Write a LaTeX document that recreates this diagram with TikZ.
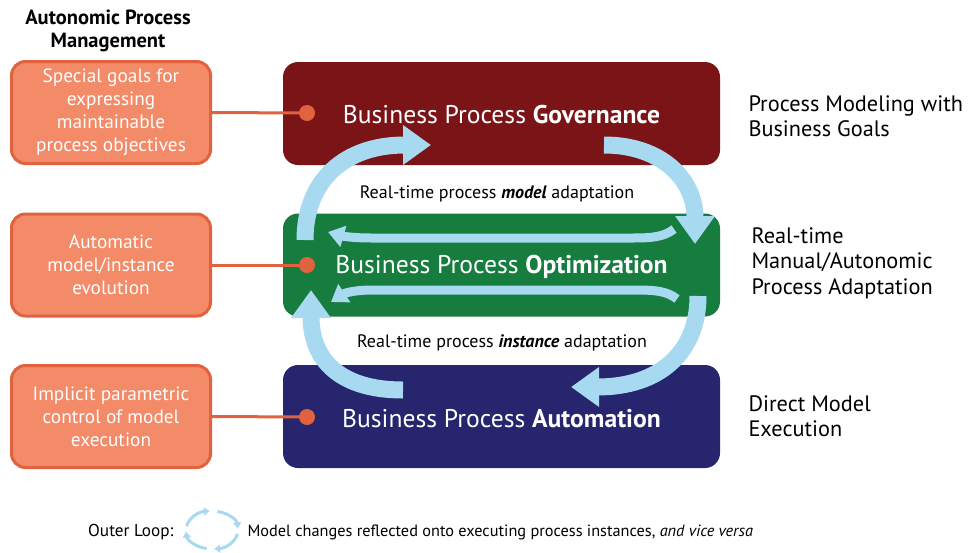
\documentclass[tikz,border=0pt]{standalone}
\usepackage{fontspec}
\setmainfont{PT Sans}
\usetikzlibrary{arrows.meta}
\definecolor{gov}{HTML}{7A1417}
\definecolor{opt}{HTML}{177D3F}
\definecolor{aut}{HTML}{26256D}
\definecolor{loopblue}{HTML}{A7D9F1}
\definecolor{orfill}{HTML}{F38A68}
\definecolor{orline}{HTML}{E0623E}
\tikzset{
  mainbox/.style={rounded corners=15pt, minimum width=437pt, minimum height=103pt, inner sep=0pt},
  boxtext/.style={text=white, font=\fontsize{25.6}{28}\selectfont},
  sidebox/.style={rounded corners=14pt, draw=orline, line width=3pt, fill=orfill, minimum width=199pt, minimum height=102pt, inner sep=0pt, text=white, align=center, font=\fontsize{19.3}{23}\selectfont},
  dot/.style={circle, fill=orline, minimum size=16pt, inner sep=0pt},
  link/.style={draw=orline, line width=3pt},
  bigloop/.style={draw=loopblue, line width=17pt, -{Triangle[width=38pt,length=28pt]}},
  innerloop/.style={draw=loopblue, line width=9pt, -{Triangle[width=21pt,length=16pt]}},
  smallloop/.style={draw=loopblue, line width=3pt, -{Triangle[width=8pt,length=6pt]}},
  righttext/.style={anchor=west, align=left, font=\fontsize{22.3}{25.5}\selectfont},
  midtext/.style={font=\fontsize{18}{20}\selectfont},
  legtext/.style={font=\fontsize{16.3}{20}\selectfont},
}
\begin{document}
\begin{tikzpicture}[x=1pt,y=-1pt]
\useasboundingbox (0,0) rectangle (973,552);
% title
\node[font=\bfseries\fontsize{20.5}{23}\selectfont, align=center] (title) at (108,30.5) {Autonomic Process\\Management};
% main boxes
\node[mainbox, fill=gov] (govbox) at (501.5,113.5) {};
\node[mainbox, fill=opt] (optbox) at (501.5,265) {};
\node[mainbox, fill=aut] (autbox) at (501.5,416.5) {};
% side boxes
\node[sidebox] (s1) at (111,112.5) {Special goals for\\expressing\\maintainable\\process objectives};
\node[sidebox] (s2) at (111,265) {Automatic\\model/instance\\evolution};
\node[sidebox] (s3) at (111,416.5) {Implicit parametric\\control of model\\execution};
% dots and links
\node[dot] (d1) at (307,113) {};
\node[dot] (d2) at (307,265) {};
\node[dot] (d3) at (307,417) {};
\draw[link] (s1.east) -- (d1.center);
\draw[link] (s2.east) -- (d2.center);
\draw[link] (s3.east) -- (d3.center);
% loops
\coordinate (a1s) at (305,240);
\coordinate (a1e) at (431,145);
\coordinate (a2s) at (604,145);
\coordinate (a2e) at (695,244);
\coordinate (a3s) at (698,296);
\coordinate (a3e) at (571,387);
\coordinate (a4s) at (403,390);
\coordinate (a4e) at (311,290);
\draw[bigloop] (a1s) .. controls (305,180) and (345,145) .. (a1e);
\draw[bigloop] (a2s) .. controls (662,145) and (695,180) .. (a2e);
\draw[bigloop] (a3s) .. controls (698,352) and (660,387) .. (a3e);
\draw[bigloop] (a4s) .. controls (340,390) and (311,360) .. (a4e);
% inner loops
\coordinate (i1s) at (674,229);
\coordinate (i1e) at (328,232);
\coordinate (i2s) at (677,299);
\coordinate (i2e) at (331,302);
\draw[innerloop] (i1s) .. controls (664,237) and (652,238) .. (632,238) -- (372,238) .. controls (352,238) and (342,236) .. (i1e);
\draw[innerloop] (i2s) .. controls (667,291) and (655,290) .. (635,290) -- (372,290) .. controls (352,290) and (343,294) .. (i2e);
% box texts
\node[boxtext] (t1) at (501.5,115) {Business Process \textbf{Governance}};
\node[boxtext] (t2) at (501.5,267) {Business Process \textbf{Optimization}};
\node[boxtext] (t3) at (501.5,419) {Business Process \textbf{Automation}};
% middle labels
\node[midtext] (m1) at (497,194) {Real-time process \textbf{\itshape model} adaptation};
\node[midtext] (m2) at (502,343) {Real-time process \textbf{\itshape instance} adaptation};
% right texts
\node[righttext] (r1) at (745,116) {Process Modeling with\\Business Goals};
\node[righttext] (r2) at (748,263) {Real-time\\Manual/Autonomic\\Process Adaptation};
\node[righttext] (r3) at (745,416) {Direct Model\\Execution};
% legend
\node[legtext, font=\fontsize{17.2}{20}\selectfont, anchor=east] (l1) at (177,532) {Outer Loop:};
\coordinate (lc) at (212,530);
\draw[smallloop] ([shift={(-168:26 and 19)}]lc) arc[start angle=-168, end angle=-95, x radius=26, y radius=19];
\draw[smallloop] ([shift={(-78:26 and 19)}]lc) arc[start angle=-78, end angle=-5, x radius=26, y radius=19];
\draw[smallloop] ([shift={(12:26 and 19)}]lc) arc[start angle=12, end angle=85, x radius=26, y radius=19];
\draw[smallloop] ([shift={(102:26 and 19)}]lc) arc[start angle=102, end angle=175, x radius=26, y radius=19];
\node[legtext, anchor=west] (l2) at (244,532) {Model changes reflected onto executing process instances, \textit{and vice versa}};
\end{tikzpicture}
\end{document}
